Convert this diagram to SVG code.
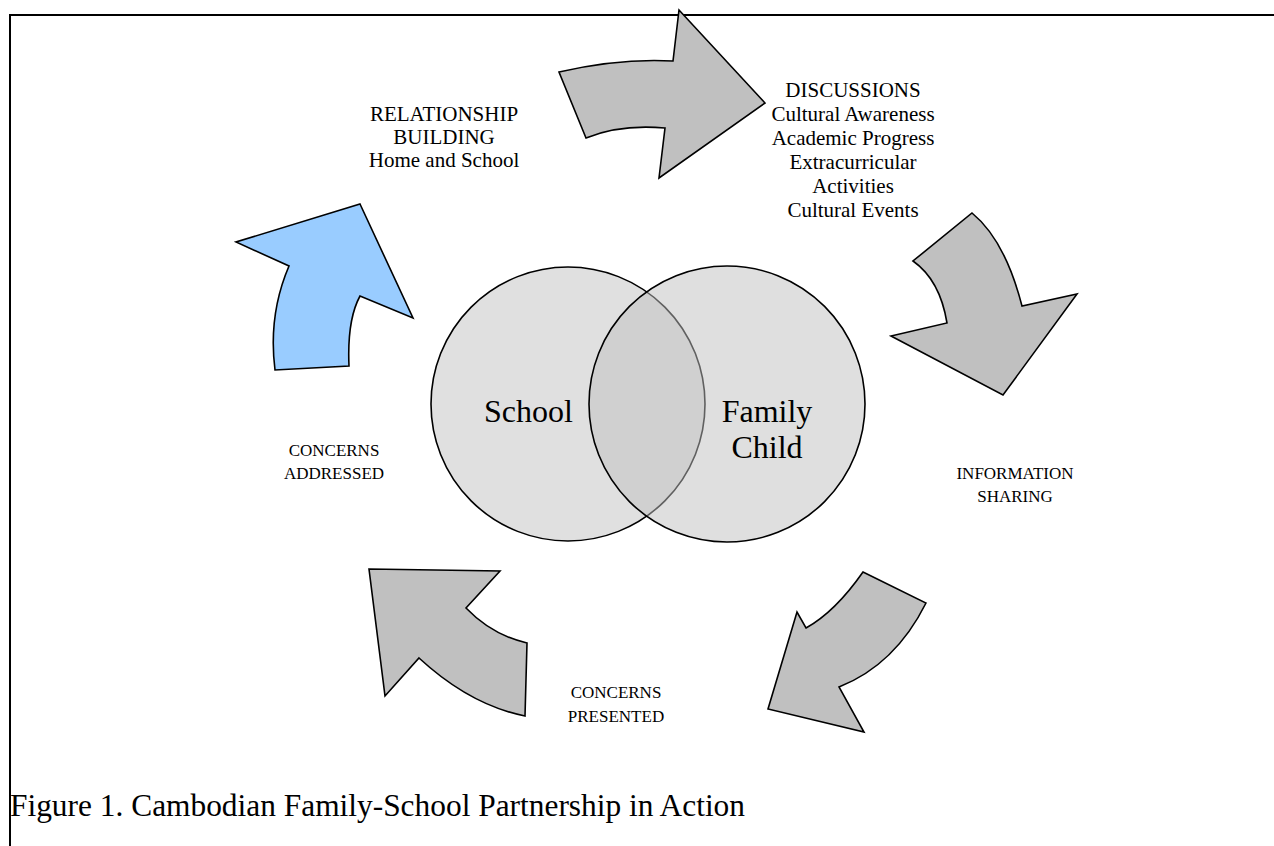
<svg xmlns="http://www.w3.org/2000/svg" width="1274" height="846" viewBox="0 0 1274 846">
<style>
.lbl{font-family:"Liberation Serif","Times New Roman",serif;font-size:21px;fill:#000;text-anchor:middle}
.sm{font-size:17px}
.big{font-family:"Liberation Serif","Times New Roman",serif;font-size:32px;fill:#000}
.cap{font-family:"Liberation Serif","Times New Roman",serif;font-size:31.4px;fill:#000}
.arr{fill:#c0c0c0;stroke:#000;stroke-width:1.6;stroke-linejoin:miter}
.blue{fill:#99ccff}
</style>
<rect width="1274" height="846" fill="#fff"/>
<path d="M10,846 V15 H1274" fill="none" stroke="#000" stroke-width="2"/>
<g id="venn">
<g id="school"><circle cx="568" cy="404" r="137" fill="#e0e0e0" stroke="#000" stroke-width="1.6"/></g>
<g id="family"><circle cx="727" cy="404" r="138" fill="#c0c0c0" fill-opacity="0.5" stroke="#000" stroke-width="1.6"/></g>
<text class="big" x="484" y="422">School</text>
<text class="big" x="767" y="422" text-anchor="middle">Family</text>
<text class="big" x="767" y="458" text-anchor="middle">Child</text>
</g>
<g id="connectors">
<path class="arr" d="M559,72 Q620,58 673,61 L679,10 L765,103 L659,178 L665,128 Q620,124 586,138 Z"/>
<path class="arr" d="M972,213 Q1005,240 1022,306 L1077,294 L1003,395 L891,336 L947,323 Q940,280 913,261 Z"/>
<path class="arr" d="M863,572 L926,603 Q895,665 839,687 L864,732 L768,709 L797,612 L806,628 Q835,612 863,572 Z"/>
<path class="arr" d="M369,569 L500,571 L466,608 Q492,635 527,643 L525,716 Q470,705 419,658 L385,696 Z"/>
<path class="arr blue" d="M360,204 L413,318 L360,296 Q347,320 349,366 L275,370 Q268,315 289,266 L236,242 Z"/>
</g>
<g id="relationship">
<text class="lbl" x="444" y="121">RELATIONSHIP</text>
<text class="lbl" x="444" y="144">BUILDING</text>
<text class="lbl" x="444" y="167">Home and School</text>
</g>
<g id="discussions">
<text class="lbl" x="853" y="97">DISCUSSIONS</text>
<text class="lbl" x="853" y="121">Cultural Awareness</text>
<text class="lbl" x="853" y="145">Academic Progress</text>
<text class="lbl" x="853" y="169">Extracurricular</text>
<text class="lbl" x="853" y="193">Activities</text>
<text class="lbl" x="853" y="217">Cultural Events</text>
</g>
<g id="information">
<text class="lbl sm" x="1015" y="479">INFORMATION</text>
<text class="lbl sm" x="1015" y="502">SHARING</text>
</g>
<g id="concerns-presented">
<text class="lbl sm" x="616" y="698">CONCERNS</text>
<text class="lbl sm" x="616" y="722">PRESENTED</text>
</g>
<g id="concerns-addressed">
<text class="lbl sm" x="334" y="456">CONCERNS</text>
<text class="lbl sm" x="334" y="479">ADDRESSED</text>
</g>
<text class="cap" x="10" y="816">Figure 1. Cambodian Family-School Partnership in Action</text>
</svg>
